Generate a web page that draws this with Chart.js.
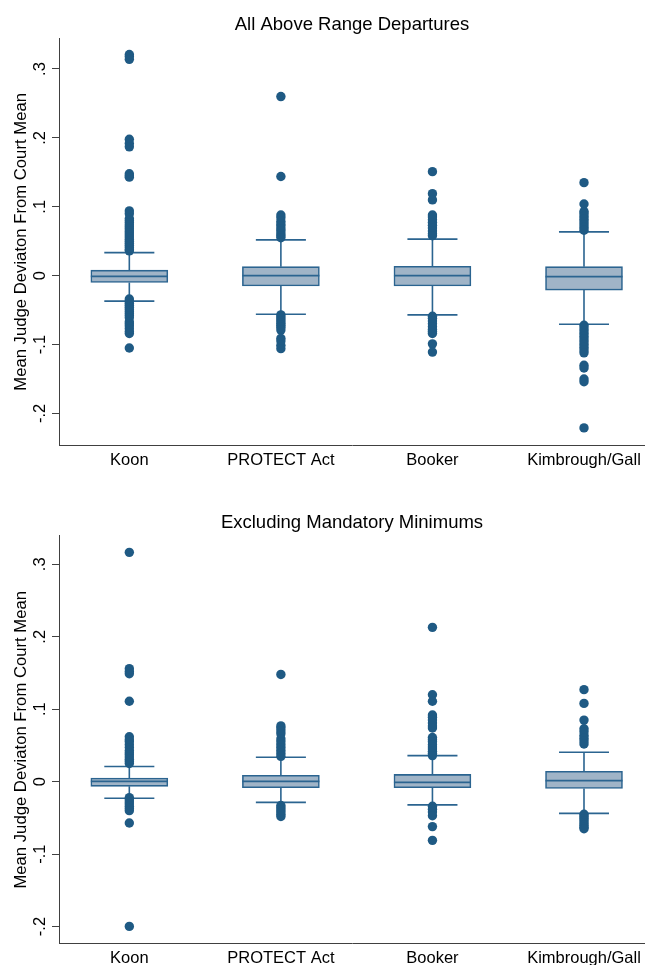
<!DOCTYPE html>
<html>
<head>
<meta charset="utf-8">
<script src="https://cdn.jsdelivr.net/npm/chart.js@4.4.1/dist/chart.umd.min.js"></script>
<style>
  html, body { margin: 0; padding: 0; background: #fff; overflow: hidden; }
  #wrap { position: relative; width: 645px; height: 965px; overflow: hidden; }
  canvas { position: absolute; left: 0; }
  #above-chart { top: 0; }
  #excl-chart { top: 490px; }
</style>
</head>
<body>
<div id="wrap">
  <canvas id="above-chart" width="645" height="490"></canvas>
  <canvas id="excl-chart" width="645" height="490"></canvas>
</div>
<script>
// Box plots of judge deviation from court mean, two panels

const categories = ["Koon", "PROTECT Act", "Booker", "Kimbrough/Gall"];
const yTickValues = [-0.2, -0.1, 0, 0.1, 0.2, 0.3];
const yTickLabels = ["-.2", "-.1", "0", ".1", ".2", ".3"];

// panel 1: All Above Range Departures
const aboveQ1 = [-0.010, -0.015, -0.015, -0.021];
const aboveMedian = [-0.001, 0.000, 0.000, -0.0015];
const aboveQ3 = [0.008, 0.013, 0.0135, 0.013];
const aboveLowWhisker = [-0.037, -0.056, -0.057, -0.0705];
const aboveHighWhisker = [0.0335, 0.052, 0.053, 0.0635];
const aboveKoonOut = [
  0.321, 0.318, 0.314, 0.198, 0.192, 0.187, 0.148, 0.145, 0.143, 0.094,
  0.090, 0.083, 0.080, 0.077, 0.074, 0.071, 0.068, 0.065, 0.062, 0.059,
  0.056, 0.053, 0.050, 0.047, 0.044, 0.041, 0.038, 0.036, -0.034, -0.037,
  -0.040, -0.043, -0.046, -0.049, -0.052, -0.055, -0.058, -0.061, -0.067,
  -0.070, -0.073, -0.077, -0.081, -0.084, -0.105,
];
const aboveProtectOut = [
  0.260, 0.144, 0.088, 0.084, 0.079, 0.075, 0.072, 0.068, 0.065, 0.061,
  0.058, 0.055, -0.057, -0.060, -0.063, -0.066, -0.069, -0.072, -0.075,
  -0.079, -0.091, -0.095, -0.101, -0.106,
];
const aboveBookerOut = [
  0.151, 0.119, 0.110, 0.088, 0.085, 0.081, 0.077, 0.073, 0.069, 0.065,
  0.061, 0.058, -0.059, -0.062, -0.066, -0.070, -0.074, -0.078, -0.081,
  -0.084, -0.099, -0.111,
];
const aboveKimbroughOut = [
  0.135, 0.104, 0.093, 0.090, 0.086, 0.082, 0.078, 0.074, 0.070, 0.066,
  -0.072, -0.076, -0.080, -0.084, -0.088, -0.092, -0.096, -0.100, -0.104,
  -0.108, -0.112, -0.130, -0.134, -0.150, -0.154, -0.221,
];
const aboveRange = [-0.247, 0.345];

// panel 2: Excluding Mandatory Minimums
const exclQ1 = [-0.0065, -0.0083, -0.0083, -0.0093];
const exclMedian = [0.0005, 0.0004, -0.001, 0.0014];
const exclQ3 = [0.005, 0.0088, 0.010, 0.0143];
const exclLowWhisker = [-0.023, -0.0286, -0.032, -0.0438];
const exclHighWhisker = [0.021, 0.0337, 0.036, 0.0406];
const exclKoonOut = [
  0.3165, 0.156, 0.152, 0.149, 0.111, 0.062, 0.058, 0.055, 0.051, 0.047,
  0.043, 0.040, 0.037, 0.034, 0.031, 0.028, 0.025, -0.022, -0.025, -0.028,
  -0.031, -0.034, -0.037, -0.040, -0.057, -0.1998,
];
const exclProtectOut = [
  0.148, 0.077, 0.074, 0.070, 0.066, 0.059, 0.055, 0.051, 0.047, 0.043,
  0.039, 0.035, -0.033, -0.036, -0.039, -0.042, -0.045, -0.048,
];
const exclBookerOut = [
  0.213, 0.120, 0.111, 0.092, 0.089, 0.085, 0.081, 0.077, 0.074, 0.061,
  0.058, 0.055, 0.051, 0.048, 0.045, 0.042, 0.039, 0.036, -0.034, -0.038,
  -0.042, -0.047, -0.062, -0.081,
];
const exclKimbroughOut = [
  0.127, 0.108, 0.085, 0.073, 0.069, 0.064, 0.060, 0.056, 0.052, -0.045,
  -0.048, -0.051, -0.054, -0.057, -0.060, -0.063, -0.065,
];
const exclRange = [-0.2238, 0.3395];

const dotColor = "#1f5a84";
const boxFill = "#a0b4c7";
const boxLine = "#2b6490";
const axisColor = "#404040";

Chart.defaults.font.family = '"Liberation Sans", Arial, sans-serif';
Chart.defaults.font.size = 16.5;
Chart.defaults.color = "#000";

// whiskers, caps and median lines, positioned through the chart scales
const boxWhiskers = {
  id: "boxWhiskers",
  beforeDatasetsDraw(chart) {
    const st = chart.data.datasets[1].stats;
    const ctx = chart.ctx;
    const y = chart.scales.y;
    const bars = chart.getDatasetMeta(1).data;
    ctx.save();
    ctx.strokeStyle = boxLine;
    ctx.lineWidth = 1.6;
    bars.forEach((bar, i) => {
      const cap = bar.width * 0.325;
      const yHi = y.getPixelForValue(st.high[i]);
      const yLo = y.getPixelForValue(st.low[i]);
      ctx.beginPath();
      ctx.moveTo(bar.x, y.getPixelForValue(st.q3[i]));
      ctx.lineTo(bar.x, yHi);
      ctx.moveTo(bar.x, y.getPixelForValue(st.q1[i]));
      ctx.lineTo(bar.x, yLo);
      ctx.moveTo(bar.x - cap, yHi);
      ctx.lineTo(bar.x + cap, yHi);
      ctx.moveTo(bar.x - cap, yLo);
      ctx.lineTo(bar.x + cap, yLo);
      ctx.stroke();
    });
    ctx.restore();
  },
  afterDatasetsDraw(chart) {
    const st = chart.data.datasets[1].stats;
    const ctx = chart.ctx;
    const y = chart.scales.y;
    const bars = chart.getDatasetMeta(1).data;
    ctx.save();
    ctx.strokeStyle = boxLine;
    ctx.lineWidth = 1.8;
    bars.forEach((bar, i) => {
      const yMed = y.getPixelForValue(st.median[i]);
      ctx.beginPath();
      ctx.moveTo(bar.x - bar.width / 2, yMed);
      ctx.lineTo(bar.x + bar.width / 2, yMed);
      ctx.stroke();
    });
    ctx.restore();
  },
};

function makeChart(id, title, stats, outliers, range, pad) {
  const points = [];
  outliers.forEach((list, i) => {
    list.forEach((v) => points.push({ x: i + 1, y: v }));
  });
  const boxes = categories.map((c, i) => ({ x: i + 1, y: [stats.q1[i], stats.q3[i]] }));

  return new Chart(document.getElementById(id), {
    type: "bar",
    data: {
      datasets: [
        {
          type: "scatter",
          data: points,
          order: 0,
          pointRadius: 4.7,
          pointHoverRadius: 4.7,
          pointBackgroundColor: dotColor,
          pointBorderWidth: 0,
        },
        {
          type: "bar",
          data: boxes,
          stats: stats,
          order: 1,
          backgroundColor: boxFill,
          borderColor: boxLine,
          borderWidth: 1.6,
          borderSkipped: false,
          barThickness: 77,
        },
      ],
    },
    options: {
      responsive: false,
      animation: false,
      events: [],
      layout: {
        autoPadding: false,
        padding: { left: 0, right: 0, top: 0, bottom: pad.bottom },
      },
      plugins: {
        legend: { display: false },
        tooltip: { enabled: false },
        title: {
          display: true,
          text: title,
          fullSize: false,
          color: "#000",
          font: { size: 18.5, weight: "normal" },
          padding: { top: pad.titleTop, bottom: pad.titleBottom },
        },
      },
      scales: {
        x: {
          type: "linear",
          min: 0.536,
          max: 4.4025,
          offset: false,
          afterBuildTicks: (s) => {
            s.ticks = categories.map((c, i) => ({ value: i + 1 }));
          },
          afterFit: (s) => {
            s.paddingLeft = 0;
            s.paddingRight = 0;
          },
          grid: { display: false, drawTicks: false },
          border: { display: true, color: axisColor, width: 1 },
          ticks: {
            autoSkip: false,
            maxRotation: 0,
            padding: 5,
            callback: (v, i) => categories[i],
          },
        },
        y: {
          min: range[0],
          max: range[1],
          afterBuildTicks: (s) => {
            s.ticks = yTickValues.map((v) => ({ value: v }));
          },
          afterFit: (s) => {
            s.width = 59;
          },
          grid: { drawOnChartArea: false, tickLength: 7, tickColor: axisColor },
          border: { display: true, color: axisColor, width: 1 },
          ticks: {
            minRotation: 90,
            maxRotation: 90,
            crossAlign: "center",
            padding: 2,
            callback: (v, i) => yTickLabels[i],
          },
          title: {
            display: true,
            text: "Mean Judge Deviaton From Court Mean",
            color: "#000",
            font: { size: 16.7 },
            padding: { top: 11.6, bottom: 0 },
          },
        },
      },
    },
    plugins: [boxWhiskers],
  });
}

makeChart(
  "above-chart",
  "All Above Range Departures",
  { q1: aboveQ1, median: aboveMedian, q3: aboveQ3, low: aboveLowWhisker, high: aboveHighWhisker },
  [aboveKoonOut, aboveProtectOut, aboveBookerOut, aboveKimbroughOut],
  aboveRange,
  { titleTop: 13.9, titleBottom: 1.9, bottom: 14.4 }
);

makeChart(
  "excl-chart",
  "Excluding Mandatory Minimums",
  { q1: exclQ1, median: exclMedian, q3: exclQ3, low: exclLowWhisker, high: exclHighWhisker },
  [exclKoonOut, exclProtectOut, exclBookerOut, exclKimbroughOut],
  exclRange,
  { titleTop: 22.2, titleBottom: 1.3, bottom: 6.4 }
);
</script>
</body>
</html>
